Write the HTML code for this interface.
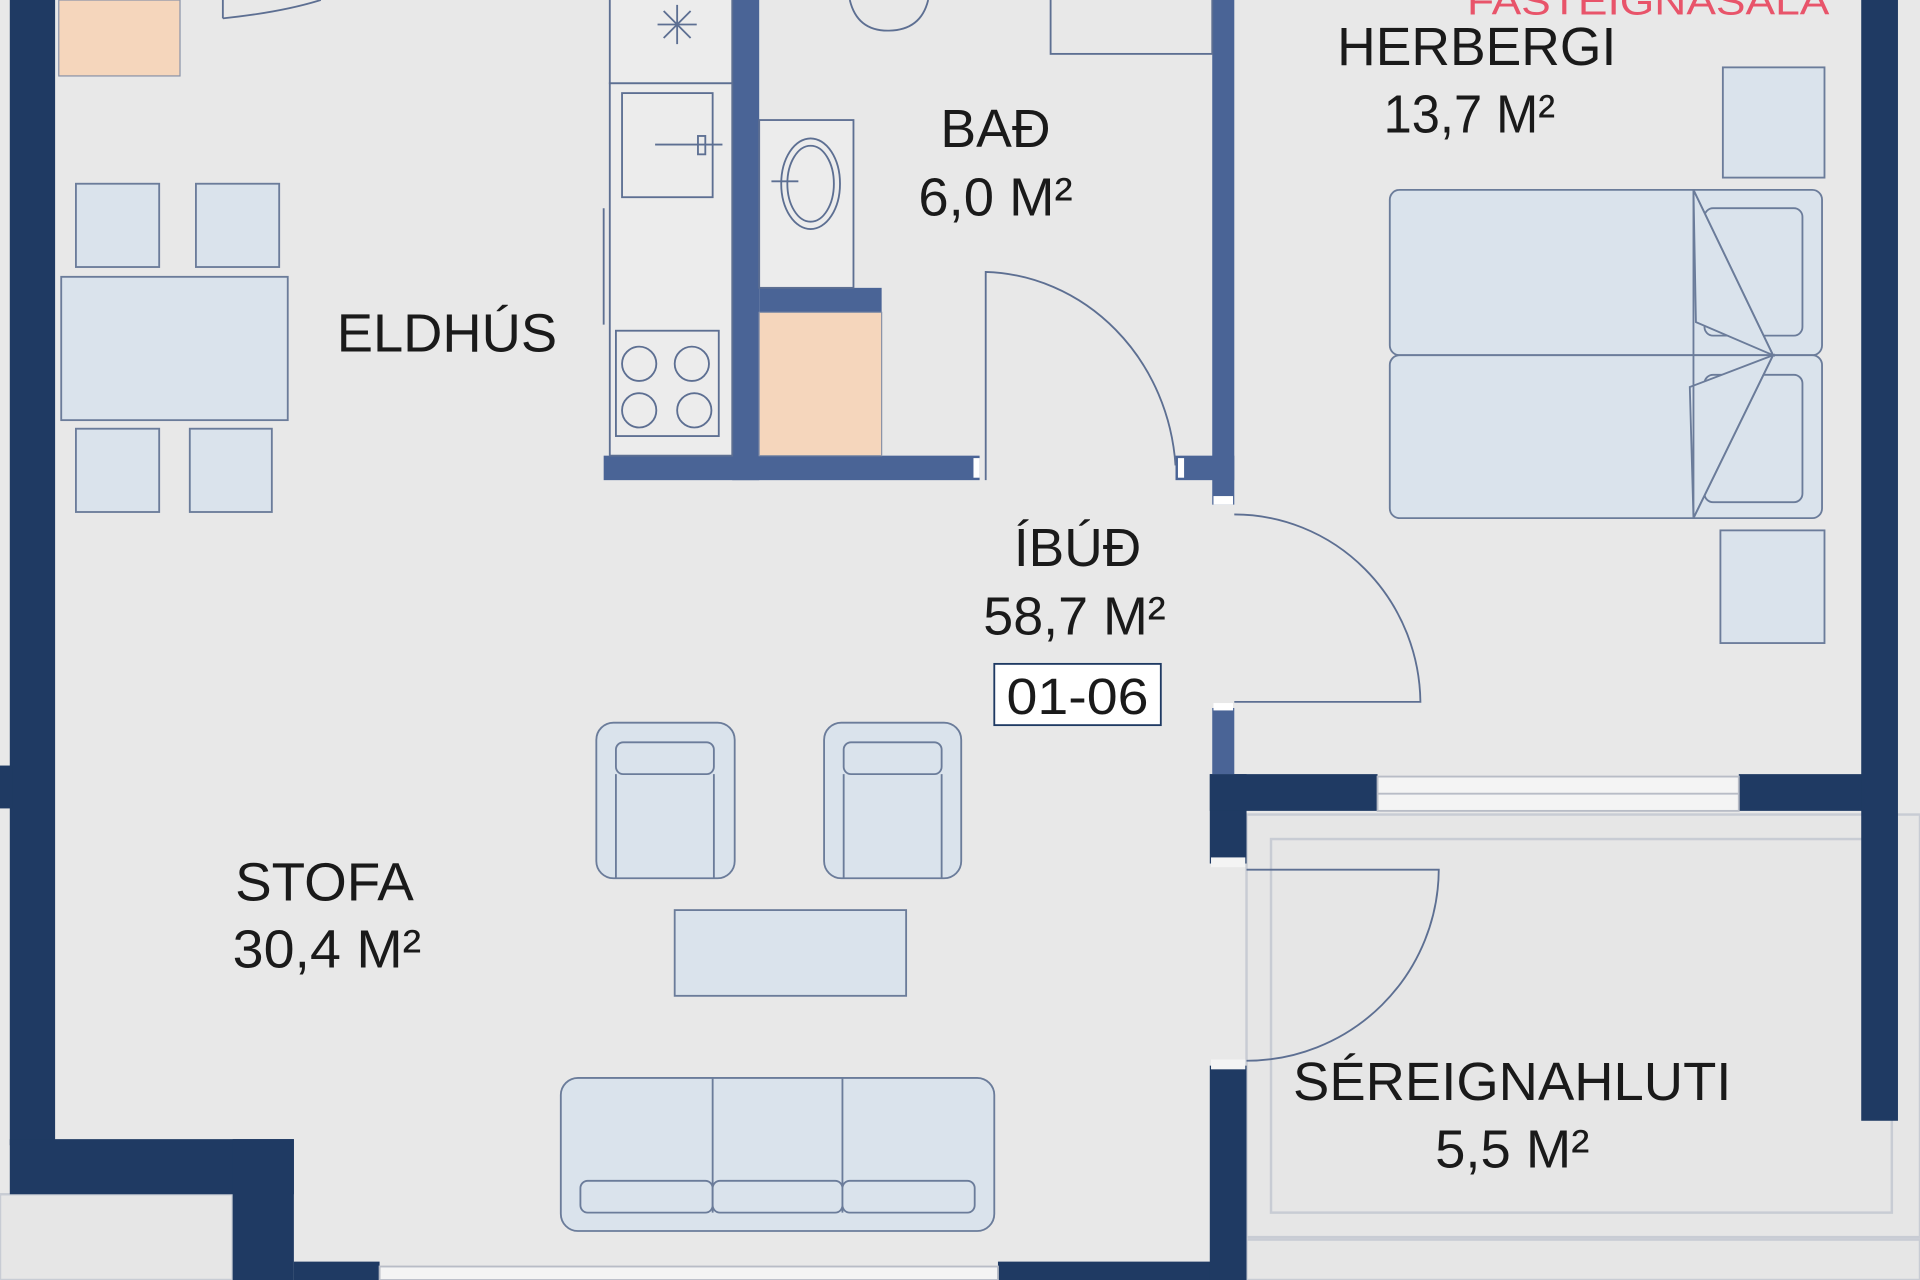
<!DOCTYPE html>
<html><head><meta charset="utf-8"><style>
html,body{margin:0;padding:0;background:#e8e8e8;}
svg{display:block}
text{font-family:"Liberation Sans",sans-serif;fill:#1a1a1a;}
</style></head><body>
<svg width="1920" height="1280" viewBox="0 0 1568 1045" preserveAspectRatio="none" xmlns="http://www.w3.org/2000/svg">
<rect x="0" y="0" width="1568" height="1045" fill="#e8e8e8"/>
<!-- balcony -->
<rect x="1018" y="665" width="550" height="345" fill="#e6e6e6" stroke="#c8ccd4" stroke-width="2"/>
<rect x="1038" y="685" width="507" height="305" fill="none" stroke="#c8ccd4" stroke-width="2"/>
<rect x="0" y="975" width="190" height="70" fill="#e6e6e6" stroke="#c8ccd4" stroke-width="2"/>
<rect x="1018" y="1012" width="550" height="33" fill="#e6e6e6" stroke="#c8ccd4" stroke-width="2"/>
<!-- outer walls -->
<g fill="#1f3a63">
<rect x="8" y="0" width="37" height="935"/>
<rect x="0" y="625" width="10" height="35"/>
<rect x="8" y="930" width="232" height="45"/>
<rect x="190" y="930" width="50" height="115"/>
<rect x="240" y="1030" width="70" height="15"/>
<rect x="815" y="1030" width="175" height="15"/>
<rect x="988" y="632" width="30" height="73"/>
<rect x="988" y="870" width="30" height="175"/>
<rect x="988" y="632" width="137" height="30"/>
<rect x="1420" y="632" width="105" height="30"/>
<rect x="1520" y="0" width="30" height="915"/>
</g>
<!-- window herbergi -->
<rect x="1125" y="634" width="295" height="28" fill="#f4f4f4" stroke="#b8bcc6" stroke-width="1.5"/>
<line x1="1125" y1="648" x2="1420" y2="648" stroke="#b8bcc6" stroke-width="1.5"/>
<rect x="310" y="1034" width="505" height="11" fill="#f4f4f4" stroke="#b8bcc6" stroke-width="1.5"/>
<rect x="989" y="700" width="28" height="8" fill="#f4f4f4"/>
<rect x="989" y="865" width="28" height="8" fill="#f4f4f4"/>
<!-- inner walls -->
<g fill="#4a6496">
<rect x="598" y="0" width="22" height="392"/>
<rect x="493" y="372" width="307" height="20"/>
<rect x="620" y="235" width="100" height="20"/>
<rect x="960" y="372" width="48" height="20"/>
<rect x="990" y="0" width="18" height="412"/>
<rect x="990" y="578" width="18" height="54"/>
</g>
<rect x="795" y="374" width="5" height="16" fill="#fff"/>
<rect x="962" y="374" width="5" height="16" fill="#fff"/>
<rect x="991" y="405" width="16" height="7" fill="#fff"/>
<rect x="991" y="574" width="16" height="6" fill="#fff"/>
<!-- peach -->
<rect x="48" y="0" width="99" height="62" fill="#f5d6bc" stroke="#8a93a8" stroke-width="1"/>
<rect x="620" y="255" width="100" height="117" fill="#f5d6bc" stroke="#8a93a8" stroke-width="1"/>
<g fill="none" stroke="#5d6f92" stroke-width="1.5">
<path d="M182 15 Q230 10 262 0"/>
<line x1="182" y1="0" x2="182" y2="15"/>
<!-- kitchen -->
<rect x="498" y="-2" width="100" height="70" fill="#ececec"/>
<rect x="498" y="68" width="100" height="304" fill="#ececec"/>
<rect x="508" y="76" width="74" height="85"/>
<line x1="535" y1="118" x2="590" y2="118"/>
<rect x="570" y="111" width="6" height="15"/>
<line x1="493" y1="170" x2="493" y2="265"/>
<rect x="503" y="270" width="84" height="86"/>
<circle cx="522" cy="297" r="14"/><circle cx="565" cy="297" r="14"/>
<circle cx="522" cy="335" r="14"/><circle cx="567" cy="335" r="14"/>
<path d="M553 4 V36 M537 20 H569 M542 9 L564 31 M564 9 L542 31"/>
<!-- bath -->
<rect x="620" y="98" width="77" height="137" fill="#ececec"/>
<ellipse cx="662" cy="150" rx="24" ry="37"/>
<ellipse cx="662" cy="150" rx="19" ry="31"/>
<line x1="630" y1="148" x2="652" y2="148"/>
<path d="M694 0 Q700 25 725 25 Q752 25 758 0"/>
<rect x="858" y="-2" width="132" height="46"/>
<path d="M805 392 V222 A160 170 0 0 1 960 380"/>
<!-- hall door -->
<path d="M1008 420 A152 155 0 0 1 1160 573 H1008"/>
<!-- balcony door -->
<path d="M1018 710 H1175 A157 157 0 0 1 1018 866"/>
</g>
<!-- furniture -->
<g fill="#dae3ec" stroke="#6b7c9a" stroke-width="1.5">
<rect x="62" y="150" width="68" height="68"/><rect x="160" y="150" width="68" height="68"/>
<rect x="50" y="226" width="185" height="117"/>
<rect x="62" y="350" width="68" height="68"/><rect x="155" y="350" width="67" height="68"/>
<rect x="1407" y="55" width="83" height="90"/>
<rect x="1405" y="433" width="85" height="92"/>
<rect x="1135" y="155" width="353" height="135" rx="8"/>
<rect x="1135" y="290" width="353" height="133" rx="8"/>
<rect x="1392" y="170" width="80" height="104" rx="7"/>
<rect x="1392" y="306" width="80" height="104" rx="7"/>
<path d="M1383 155 L1448 290 L1385 263 Z"/>
<path d="M1383 423 L1448 290 L1380 316 Z"/>
<rect x="487" y="590" width="113" height="127" rx="14"/>
<rect x="503" y="606" width="80" height="26" rx="6"/>
<line x1="503" y1="632" x2="503" y2="717"/><line x1="583" y1="632" x2="583" y2="717"/>
<rect x="673" y="590" width="112" height="127" rx="14"/>
<rect x="689" y="606" width="80" height="26" rx="6"/>
<line x1="689" y1="632" x2="689" y2="717"/><line x1="769" y1="632" x2="769" y2="717"/>
<rect x="551" y="743" width="189" height="70"/>
<rect x="458" y="880" width="354" height="125" rx="14"/>
<line x1="582" y1="880" x2="582" y2="990"/><line x1="688" y1="880" x2="688" y2="990"/>
<rect x="474" y="964" width="108" height="26" rx="6"/>
<rect x="582" y="964" width="106" height="26" rx="6"/>
<rect x="688" y="964" width="108" height="26" rx="6"/>
<line x1="1383" y1="155" x2="1383" y2="423"/>
</g>
<line x1="1383" y1="155" x2="1448" y2="290" stroke="#6b7c9a" stroke-width="1.5"/>
<line x1="1383" y1="423" x2="1448" y2="290" stroke="#6b7c9a" stroke-width="1.5"/>
<!-- labels -->
<text x="1198" y="12" font-size="32" style="fill:#e8546a" textLength="296" lengthAdjust="spacingAndGlyphs">FASTEIGNASALA</text>
<g font-size="44">
<text x="275" y="287" textLength="180" lengthAdjust="spacingAndGlyphs">ELDHÚS</text>
<text x="768" y="120" textLength="90" lengthAdjust="spacingAndGlyphs">BAÐ</text>
<text x="750" y="176" textLength="126" lengthAdjust="spacingAndGlyphs">6,0 M²</text>
<text x="1092" y="53" textLength="228" lengthAdjust="spacingAndGlyphs">HERBERGI</text>
<text x="1130" y="108" textLength="140" lengthAdjust="spacingAndGlyphs">13,7 M²</text>
<text x="828" y="462" textLength="104" lengthAdjust="spacingAndGlyphs">ÍBÚÐ</text>
<text x="803" y="518" textLength="149" lengthAdjust="spacingAndGlyphs">58,7 M²</text>
<text x="192" y="735" textLength="146" lengthAdjust="spacingAndGlyphs">STOFA</text>
<text x="190" y="790" textLength="154" lengthAdjust="spacingAndGlyphs">30,4 M²</text>
<text x="1056" y="898" textLength="358" lengthAdjust="spacingAndGlyphs">SÉREIGNAHLUTI</text>
<text x="1172" y="953" textLength="126" lengthAdjust="spacingAndGlyphs">5,5 M²</text>
</g>
<rect x="812" y="542" width="136" height="50" fill="#fff" stroke="#1f3a63" stroke-width="1.5"/>
<text x="822" y="583" font-size="42" textLength="116" lengthAdjust="spacingAndGlyphs">01-06</text>
</svg>
</body></html>
